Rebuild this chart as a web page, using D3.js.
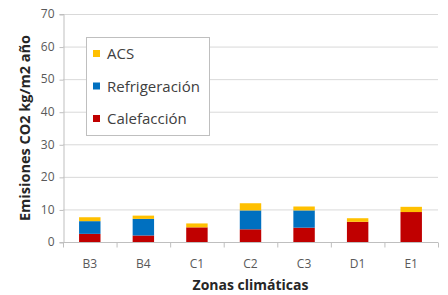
<!DOCTYPE html>
<html>
<head>
<meta charset="utf-8">
<script src="https://cdn.jsdelivr.net/npm/d3@7"></script>
<style>
  body { margin: 0; background: #fff; }
  text { font-family: "Open Sans", "Liberation Sans", sans-serif; }
</style>
</head>
<body>
<div id="chart"></div>
<script>
var zonas = ["B3", "B4", "C1", "C2", "C3", "D1", "E1"];
var calefaccion = [2.5, 2.0, 4.5, 3.9, 4.4, 6.2, 9.2];
var refrigeracion = [3.9, 5.1, 0, 5.8, 5.3, 0, 0];
var acs = [1.2, 1.0, 1.2, 2.2, 1.2, 1.1, 1.6];
var yTicks = [0, 10, 20, 30, 40, 50, 60, 70];

var seriesNames = ["Calefacción", "Refrigeración", "ACS"];
var seriesColors = ["#c00000", "#0070c0", "#ffc000"];

var width = 448, height = 295;
var margin = { top: 14, right: 10, bottom: 53, left: 63 };

var svg = d3
  .select("#chart")
  .append("svg")
  .attr("width", width)
  .attr("height", height);

var rows = zonas.map(function(z, i) {
  return { zona: z, "Calefacción": calefaccion[i], "Refrigeración": refrigeracion[i], "ACS": acs[i] };
});
var stacked = d3.stack().keys(seriesNames)(rows);

var x = d3
  .scaleBand()
  .domain(zonas)
  .range([margin.left, width - margin.right])
  .paddingInner(0.6)
  .paddingOuter(0.3);

var y = d3
  .scaleLinear()
  .domain([0, 70])
  .range([height - margin.bottom, margin.top]);

// gridlines
svg
  .append("g")
  .selectAll("line")
  .data(yTicks.slice(1))
  .enter()
  .append("line")
  .attr("x1", margin.left)
  .attr("x2", width - margin.right)
  .attr("y1", d => y(d) + 0.5)
  .attr("y2", d => y(d) + 0.5)
  .attr("stroke", "#d9d9d9")
  .attr("stroke-width", 1);

// y axis
var yAxis = svg
  .append("g")
  .attr("transform", "translate(" + (margin.left + 0.5) + ",0)")
  .call(d3.axisLeft(y).tickValues(yTicks).tickSize(4).tickPadding(5));
yAxis.select(".domain").attr("stroke", "#bfbfbf");
yAxis.selectAll(".tick line").attr("stroke", "#bfbfbf").attr("transform", "translate(0,0.5)");
yAxis.selectAll("text").attr("fill", "#595959").style("font-size", "12px");

// bars
svg
  .append("g")
  .selectAll("g")
  .data(stacked)
  .enter()
  .append("g")
  .attr("fill", (d, i) => seriesColors[i])
  .selectAll("rect")
  .data(d => d)
  .enter()
  .append("rect")
  .attr("x", d => x(d.data.zona))
  .attr("width", x.bandwidth())
  .attr("y", d => y(d[1]))
  .attr("height", d => y(d[0]) - y(d[1]));

// x axis
var xAxis = svg
  .append("g")
  .attr("transform", "translate(0," + (y(0) + 0.5) + ")");
xAxis
  .append("line")
  .attr("x1", margin.left)
  .attr("x2", width - margin.right)
  .attr("stroke", "#bfbfbf");
var step = (width - margin.right - margin.left) / zonas.length;
xAxis
  .selectAll(".bt")
  .data(d3.range(zonas.length + 1))
  .enter()
  .append("line")
  .attr("x1", i => margin.left + 0.5 + i * step)
  .attr("x2", i => margin.left + 0.5 + i * step)
  .attr("y1", 0)
  .attr("y2", 5)
  .attr("stroke", "#bfbfbf");
xAxis
  .selectAll("text")
  .data(zonas)
  .enter()
  .append("text")
  .attr("x", d => x(d) + x.bandwidth() / 2)
  .attr("y", 25)
  .attr("text-anchor", "middle")
  .attr("fill", "#595959")
  .style("font-size", "12px")
  .text(d => d);

// axis titles
svg
  .append("text")
  .attr("x", (margin.left + width - margin.right) / 2)
  .attr("y", 290)
  .attr("text-anchor", "middle")
  .attr("fill", "#262626")
  .style("font-size", "14px")
  .style("font-weight", "bold")
  .text("Zonas climáticas");

svg
  .append("text")
  .attr("transform", "translate(30," + (margin.top + 114) + ") rotate(-90)")
  .attr("text-anchor", "middle")
  .attr("fill", "#262626")
  .style("font-size", "14.5px")
  .style("font-weight", "bold")
  .text("Emisiones CO2 kg/m2 año");

// legend
var legend = svg.append("g").attr("transform", "translate(86,37)");
legend
  .append("rect")
  .attr("x", 0.5)
  .attr("y", 0.5)
  .attr("width", 123)
  .attr("height", 98)
  .attr("fill", "#fff")
  .attr("stroke", "#bfbfbf");
var legendOrder = [2, 1, 0];
legendOrder.forEach(function(s, i) {
  var gy = 17 + i * 32.5;
  legend
    .append("rect")
    .attr("x", 7)
    .attr("y", gy - 4)
    .attr("width", 7)
    .attr("height", 7)
    .attr("fill", seriesColors[s]);
  legend
    .append("text")
    .attr("x", 21)
    .attr("y", gy + 5)
    .attr("fill", "#404040")
    .style("font-size", "15px")
    .text(seriesNames[s]);
});
</script>
</body>
</html>
